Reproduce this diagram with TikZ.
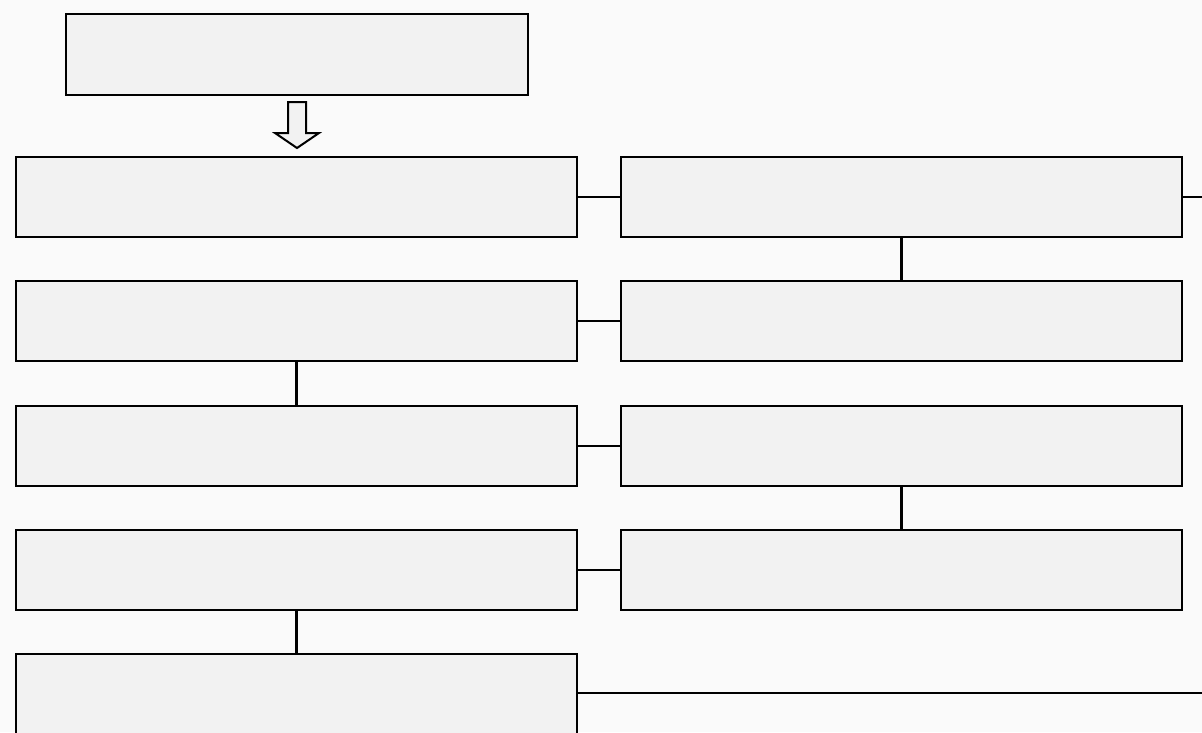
\documentclass[tikz,border=0pt]{standalone}
\begin{document}
\begin{tikzpicture}[x=1pt,y=-1pt,
  box/.style={draw=black,line width=2pt,fill=boxgray,anchor=north west,minimum width=561pt,minimum height=80pt,inner sep=0pt,outer sep=0pt},
  link/.style={draw=black,line width=2.2pt}]
\definecolor{boxgray}{HTML}{F2F2F2}
\definecolor{bggray}{HTML}{FAFAFA}
\useasboundingbox (0,0) rectangle (1202,732);
\clip (0,0) rectangle (1202,732);
\fill[bggray] (0,0) rectangle (1202,732);
% top box
\node[box,minimum width=462pt,minimum height=81pt] (top) at (66,14) {};
% left column
\node[box] (l1) at (16,157) {};
\node[box] (l2) at (16,281) {};
\node[box] (l3) at (16,406) {};
\node[box] (l4) at (16,530) {};
\node[box,minimum height=120pt] (l5) at (16,654) {};
% right column
\node[box] (r1) at (621,157) {};
\node[box] (r2) at (621,281) {};
\node[box] (r3) at (621,406) {};
\node[box] (r4) at (621,530) {};
\coordinate (e1) at (1205,197);
\coordinate (e5) at (1205,693);
% block arrow
\draw[line width=2pt,fill=boxgray,line join=miter]
  (288,102) -- (306,102) -- (306,133) -- (319,133) -- (297,148) -- (275,133) -- (288,133) -- cycle;
% connectors
\draw[link] (l1.east) -- (r1.west);
\draw[link] (r1.east) -- (e1);
\draw[link] (r1.south) -- (r2.north);
\draw[link] (l2.east) -- (r2.west);
\draw[link] (l2.south) -- (l3.north);
\draw[link] (l3.east) -- (r3.west);
\draw[link] (r3.south) -- (r4.north);
\draw[link] (l4.east) -- (r4.west);
\draw[link] (l4.south) -- (l5.north);
\draw[link] (l5.north east |- e5) -- (e5);
\end{tikzpicture}
\end{document}
